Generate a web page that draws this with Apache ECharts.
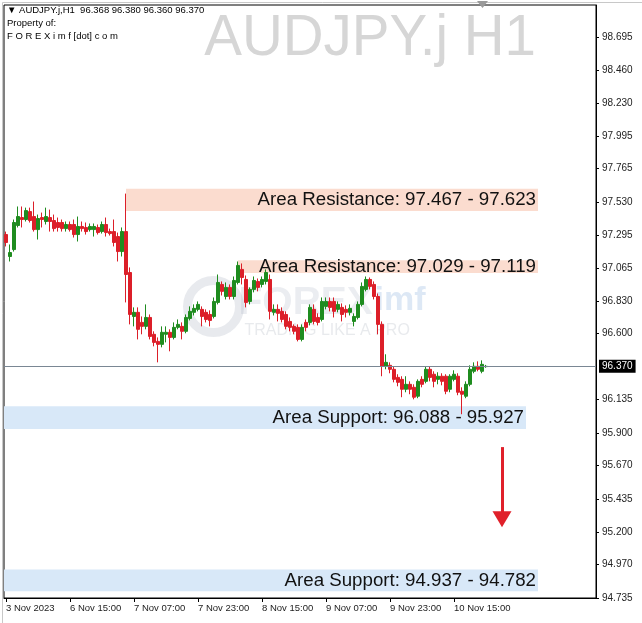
<!DOCTYPE html>
<html>
<head>
<meta charset="utf-8">
<script src="https://cdn.jsdelivr.net/npm/echarts@6/dist/echarts.min.js"></script>
<style>
html,body{margin:0;padding:0;background:#fff;}
#chart{width:642px;height:623px;}
</style>
</head>
<body>
<div id="chart"></div>
<script>
// ---- DATA (AUDJPY.j H1, one bar per hour, first bar = 3 Nov 2023 23:00) ----
const opens = [97.300,97.145,97.194,97.364,97.420,97.406,97.462,97.427,97.335,97.420,
97.392,97.420,97.399,97.385,97.385,97.342,97.371,97.371,97.300,97.357,
97.350,97.335,97.335,97.350,97.321,97.371,97.321,97.321,97.286,97.180,
97.321,97.032,96.722,96.751,96.680,96.652,96.715,96.596,96.546,96.525,
96.596,96.610,96.574,96.645,96.652,96.617,96.708,96.751,96.772,96.772,
96.751,96.736,96.722,96.821,96.948,96.863,96.927,96.863,96.962,97.054,
96.983,96.828,96.913,96.969,96.948,96.969,96.983,96.751,96.772,96.758,
96.736,96.687,96.652,96.645,96.560,96.680,96.680,96.772,96.715,96.701,
96.793,96.828,96.828,96.772,96.786,96.772,96.751,96.687,96.715,96.807,
96.913,96.983,96.948,96.863,96.666,96.370,96.377,96.349,96.292,96.278,
96.208,96.243,96.222,96.159,96.278,96.264,96.349,96.314,96.278,96.300,
96.300,96.208,96.278,96.300,96.194,96.159,96.243,96.335,96.370,96.335,
96.368];
const closes = [97.244,97.173,97.385,97.427,97.406,97.469,97.399,97.335,97.413,97.406,
97.427,97.392,97.342,97.350,97.342,97.371,97.335,97.300,97.357,97.342,
97.321,97.357,97.357,97.314,97.371,97.314,97.307,97.244,97.180,97.321,
97.018,96.736,96.751,96.631,96.652,96.715,96.581,96.539,96.525,96.610,
96.610,96.574,96.645,96.666,96.617,96.715,96.758,96.779,96.807,96.722,
96.701,96.694,96.828,96.962,96.899,96.927,96.863,96.976,97.082,96.997,
96.821,96.913,96.976,96.927,96.983,97.032,96.758,96.772,96.744,96.701,
96.652,96.645,96.617,96.560,96.645,96.645,96.786,96.687,96.680,96.828,
96.828,96.786,96.758,96.807,96.736,96.751,96.779,96.722,96.807,96.934,
96.983,96.934,96.863,96.666,96.370,96.398,96.349,96.278,96.257,96.208,
96.243,96.208,96.152,96.264,96.243,96.349,96.292,96.264,96.300,96.264,
96.194,96.300,96.314,96.187,96.173,96.243,96.349,96.370,96.349,96.384,
96.370];
const lows = [97.216,97.110,97.180,97.350,97.350,97.392,97.385,97.321,97.265,97.350,
97.371,97.321,97.321,97.321,97.321,97.321,97.321,97.279,97.251,97.321,
97.300,97.321,97.286,97.300,97.307,97.286,97.293,97.216,97.110,97.145,
96.821,96.666,96.652,96.560,96.596,96.631,96.560,96.511,96.398,96.504,
96.539,96.476,96.560,96.631,96.560,96.603,96.694,96.729,96.758,96.652,
96.680,96.652,96.708,96.807,96.870,96.842,96.842,96.842,96.948,96.948,
96.786,96.807,96.892,96.899,96.927,96.948,96.701,96.729,96.687,96.680,
96.631,96.617,96.596,96.546,96.546,96.617,96.659,96.666,96.659,96.687,
96.772,96.758,96.715,96.751,96.687,96.715,96.729,96.652,96.701,96.793,
96.899,96.913,96.842,96.596,96.300,96.349,96.321,96.257,96.229,96.152,
96.187,96.173,96.137,96.145,96.222,96.250,96.264,96.222,96.243,96.236,
96.173,96.187,96.264,96.166,96.032,96.145,96.229,96.321,96.335,96.321,
96.360];
const highs = [97.321,97.230,97.406,97.498,97.498,97.490,97.490,97.533,97.441,97.455,
97.490,97.476,97.441,97.420,97.406,97.392,97.392,97.406,97.427,97.392,
97.385,97.378,97.378,97.371,97.392,97.420,97.342,97.406,97.314,97.350,
97.589,97.068,96.786,96.786,96.722,96.807,96.736,96.617,96.574,96.652,
96.652,96.631,96.680,96.701,96.680,96.736,96.793,96.807,96.828,96.793,
96.772,96.765,96.856,97.018,96.969,96.962,96.948,97.004,97.110,97.096,
97.011,96.927,97.004,96.990,97.004,97.054,97.018,96.807,96.807,96.786,
96.758,96.715,96.666,96.666,96.666,96.701,96.807,96.807,96.744,96.856,
96.856,96.856,96.856,96.828,96.814,96.800,96.807,96.744,96.828,96.962,
97.004,96.997,96.969,96.884,96.687,96.455,96.398,96.370,96.314,96.300,
96.300,96.264,96.243,96.278,96.300,96.370,96.370,96.335,96.328,96.321,
96.314,96.314,96.342,96.321,96.222,96.264,96.377,96.398,96.405,96.412,
96.380];

const xTickLabels = ['3 Nov 2023','6 Nov 15:00','7 Nov 07:00','7 Nov 23:00','8 Nov 15:00','9 Nov 07:00','9 Nov 23:00','10 Nov 15:00'];
const xTickEvery = 16;
const yTickValues = [94.735,94.970,95.200,95.435,95.670,95.900,96.135,96.600,96.830,97.065,97.295,97.530,97.765,97.995,98.230,98.460,98.695];
const currentPrice = 96.370;
const headerValues = [96.368, 96.380, 96.360, 96.370];

// zones: [low, high, first bar index (null = chart start), last bar index, label]
const zoneResistance1 = [97.467, 97.623, 30, 133, 'Area Resistance: 97.467 - 97.623'];
const zoneResistance2 = [97.029, 97.119, 58, 133, 'Area Resistance: 97.029 - 97.119'];
const zoneSupport1 = [95.927, 96.088, null, 130, 'Area Support: 96.088 - 95.927'];
const zoneSupport2 = [94.782, 94.937, null, 133, 'Area Support: 94.937 - 94.782'];
const arrowBar = 124;
const arrowFrom = 95.80;
const arrowTo = 95.29;
const shiftBars = 27; // empty space at the right of the chart

// ---- build ----
const categories = ['2023-11-03 23:00'];
for (let h = 0; h < opens.length - 1; h++) {
  const d = 6 + Math.floor(h / 24), hh = h % 24;
  categories.push('2023-11-' + String(d).padStart(2, '0') + ' ' + String(hh).padStart(2, '0') + ':00');
}
for (let k = 0; k < shiftBars; k++) categories.push('shift' + k);

const ohlc = opens.map((o, i) => [o, closes[i], lows[i], highs[i]]);

const UP = '#1f8c1f', DOWN = '#dc1f29';
const FONT = 'Liberation Sans';

function zoneItem(z, color) {
  const a = { yAxis: z[1], itemStyle: { color: color } ,
    label: { show: true, position: 'insideRight', distance: 2, color: '#111', fontSize: 18.7, fontFamily: FONT } };
  if (z[2] !== null) a.xAxis = z[2];
  const b = { xAxis: z[3], yAxis: z[0] };
  a.name = z[4];
  return [a, b];
}

const chart = echarts.init(document.getElementById('chart'), null, { renderer: 'canvas' });
const showTick = (idx) => idx % xTickEvery === 0 && idx / xTickEvery < xTickLabels.length;

chart.setOption({
  animation: false,
  backgroundColor: '#ffffff',
  grid: { left: 4, right: 46, top: 5, bottom: 25, show: true, borderColor: '#000', borderWidth: 1, containLabel: false },
  xAxis: {
    type: 'category', data: categories, boundaryGap: true,
    axisLine: { lineStyle: { color: '#000', width: 1 } },
    axisTick: { show: true, alignWithLabel: true, length: 4, interval: (i) => showTick(i), lineStyle: { color: '#000' } },
    axisLabel: { interval: (i) => showTick(i), align: 'left', margin: 5, color: '#222', fontSize: 9.5, fontFamily: FONT,
      formatter: (v, i) => showTick(i) ? xTickLabels[i / xTickEvery] : '' },
    splitLine: { show: false }
  },
  yAxis: {
    type: 'value', position: 'right', min: 94.735, max: 98.92, scale: true,
    axisLine: { show: true, lineStyle: { color: '#000', width: 1 } },
    axisTick: { show: true, length: 3, customValues: yTickValues, lineStyle: { color: '#000' } },
    axisLabel: { customValues: yTickValues, margin: 6, color: '#222', fontSize: 10, fontFamily: FONT,
      formatter: (v) => v.toFixed(3) },
    splitLine: { show: false }
  },
  graphic: [
    { type: 'rect', left: 0, top: 0, shape: { x: 0.5, y: 0.5, width: 641, height: 622 }, style: { fill: 'none', stroke: '#c8c8c8', lineWidth: 1 }, silent: true, z: -10 },
    { type: 'polygon', shape: { points: [[477, 1], [488, 1], [482.5, 8]] }, style: { fill: '#9a9a9a' }, silent: true },
    { type: 'text', left: 7, top: 5, style: { text: '\u25BC AUDJPY.j,H1  ' + headerValues.map(v => v.toFixed(3)).join(' '), fill: '#000', fontSize: 9.5, fontFamily: FONT } },
    { type: 'text', left: 7, top: 18, style: { text: 'Property of:', fill: '#000', fontSize: 9.5, fontFamily: FONT } },
    { type: 'text', left: 7, top: 31, style: { text: 'F O R E X i m f [dot] c o m', fill: '#000', fontSize: 9.5, fontFamily: FONT } },
    { type: 'text', right: 106, top: 11, style: { text: 'AUDJPY.j H1', fill: '#d6d6d6', fontSize: 56.5, fontFamily: FONT } },
    // watermark
    { type: 'group', left: 183, top: 276, silent: true, z: -5, children: [
      { type: 'circle', shape: { cx: 31, cy: 31, r: 26 }, style: { fill: 'none', stroke: 'rgba(150,160,178,0.22)', lineWidth: 9 } },
      { type: 'text', x: 56, y: 8, style: { text: 'FOREX', fill: 'rgba(165,175,192,0.22)', fontSize: 39, fontWeight: 'bold', fontFamily: FONT } },
      { type: 'text', x: 192, y: 8, style: { text: 'imf', fill: 'rgba(120,165,215,0.25)', fontSize: 34, fontWeight: 'bold', fontFamily: FONT } },
      { type: 'text', x: 62, y: 47, style: { text: 'TRADING LIKE A PRO', fill: 'rgba(165,172,182,0.25)', fontSize: 16, fontFamily: FONT } }
    ] }
  ],
  series: [{
    type: 'candlestick',
    data: ohlc,
    barWidth: 3,
    itemStyle: { color: UP, color0: DOWN, borderColor: UP, borderColor0: DOWN, borderWidth: 1 },
    markArea: {
      silent: true,
      data: [
        zoneItem(zoneResistance1, '#fbdccf'),
        zoneItem(zoneResistance2, '#fbdccf'),
        zoneItem(zoneSupport1, '#d8e8f8'),
        zoneItem(zoneSupport2, '#d8e8f8')
      ]
    },
    markLine: {
      silent: true,
      symbol: ['none', 'none'],
      data: [
        { yAxis: currentPrice, lineStyle: { color: '#7a8794', width: 1, type: 'solid' },
          label: { show: true, position: 'end', distance: 3, formatter: currentPrice.toFixed(3), color: '#fff', backgroundColor: '#000', padding: [2, 3, 1, 3], fontSize: 10, fontFamily: FONT } },
        [
          { coord: [arrowBar, arrowFrom], symbol: 'none', lineStyle: { color: '#e0202a', width: 3, type: 'solid' }, label: { show: false } },
          { coord: [arrowBar, arrowTo], symbol: 'triangle', symbolSize: [19, 16] }
        ]
      ]
    }
  }]
});
</script>
</body>
</html>
